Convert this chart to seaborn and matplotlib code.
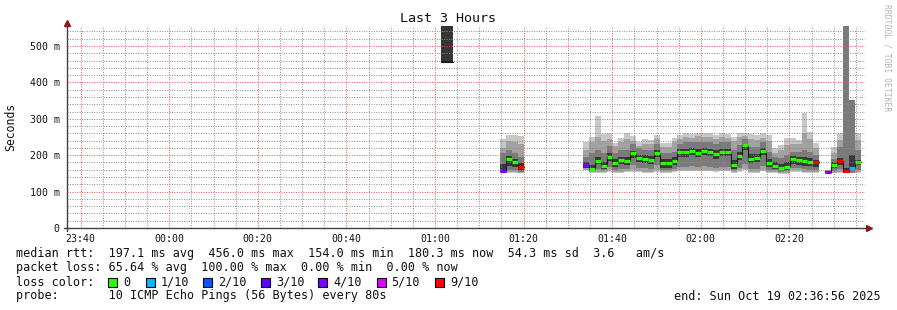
import numpy as np
import pandas as pd
import matplotlib
matplotlib.use("Agg")
import matplotlib.pyplot as plt
import seaborn as sns
from matplotlib.patches import Rectangle
from matplotlib.lines import Line2D
from matplotlib.ticker import MultipleLocator

nan = np.nan

# ---------------- data ----------------
title = "Last 3 Hours"
window_start = "23:36:56"
window_end = "02:36:56"
step_seconds = 80

# three runs of data (start time of first step of each run)
seg_starts = ["01:01:23", "01:14:43", "01:33:23"]

# median rtt (ms) per step
med_a = [456, 456]
med_b = [157, 190, 180, 168]
med_c = [173, 161, 185, 170, 196, 178, 187, 184, 205, 191, 190, 187, 207, 178, 178, 184,
         208, 208, 212, 207, 212, 209, 203, 209, 209, 173, 198, 227, 190, 191, 212, 178,
         171, 166, 168, 189, 186, 183, 182, 180, nan, 155, 174, 183, 157, 166, 180]

# loss level per step (None = no colour)
loss_a = [None, None]
loss_b = ["4/10", "0", "0", "9/10"]
loss_c = ["4/10", "0", "0", "0", "0", "0", "0", "0", "0", "0", "0", "0", "0", "0", "0", "0",
          "0", "0", "0", "0", "0", "0", "0", "0", "0", "0", "0", "0", "0", "0", "0", "0",
          "0", "0", "0", "0", "0", "0", "0", "9/10", None, "4/10", "0", "9/10", "9/10", "1/10", "0"]

# smoke layers: (lo, hi) for layer 0 (lightest) .. layer 3 (darkest)
hi0_a = [600, 600]; lo0_a = [456, 456]
hi1_a = [600, 600]; lo1_a = [456, 456]
hi2_a = [600, 600]; lo2_a = [456, 456]
hi3_a = [600, 600]; lo3_a = [456, 456]

hi0_b = [244, 255, 255, 253]; lo0_b = [152, 152, 152, 150]
hi1_b = [219, 240, 235, 232]; lo1_b = [154, 155, 155, 152]
hi2_b = [205, 215, 205, 195]; lo2_b = [156, 160, 160, 155]
hi3_b = [175, 198, 190, 178]; lo3_b = [157, 170, 168, 158]

hi0_c = [237, 251, 308, 258, 260, 233, 246, 260, 253, 237, 244, 242, 255, 233, 233, 246,
         255, 262, 258, 262, 260, 262, 255, 260, 258, 251, 262, 262, 258, 255, 260, 255,
         219, 228, 246, 246, 242, 315, 265, 233, nan, 160, 223, 260, 600, 352, 261]
hi1_c = [215, 235, 250, 240, 245, 225, 235, 245, 240, 225, 230, 230, 245, 222, 222, 235,
         245, 250, 248, 252, 250, 250, 245, 250, 248, 240, 250, 252, 245, 242, 248, 240,
         205, 215, 228, 230, 230, 260, 245, 220, nan, 158, 205, 242, 600, 352, 242]
hi2_c = [195, 205, 215, 205, 225, 205, 215, 215, 230, 220, 215, 215, 230, 205, 205, 210,
         232, 235, 236, 235, 236, 235, 230, 235, 235, 215, 228, 245, 222, 222, 236, 210,
         195, 192, 200, 210, 210, 215, 210, 200, nan, 156, 190, 222, 600, 352, 215]
hi3_c = [180, 172, 195, 180, 205, 190, 196, 195, 212, 200, 200, 198, 214, 190, 190, 196,
         216, 218, 220, 217, 220, 218, 213, 218, 218, 188, 208, 232, 202, 202, 220, 190,
         180, 176, 180, 198, 196, 194, 192, 188, nan, 156, 182, 192, 165, 200, 188]
lo0_c = [158, 150, 152, 152, 155, 150, 152, 153, 155, 153, 152, 152, 155, 150, 152, 154,
         156, 157, 157, 156, 157, 156, 155, 156, 156, 150, 155, 158, 152, 152, 156, 150,
         150, 148, 148, 155, 155, 152, 150, 150, nan, 150, 150, 152, 150, 150, 152]
lo1_c = [160, 153, 155, 155, 158, 153, 155, 156, 158, 156, 155, 155, 158, 153, 155, 157,
         159, 160, 160, 159, 160, 159, 158, 159, 159, 153, 158, 161, 155, 155, 159, 153,
         153, 151, 151, 158, 158, 155, 153, 153, nan, 151, 152, 155, 150, 150, 155]
lo2_c = [165, 157, 162, 160, 168, 160, 163, 163, 172, 166, 165, 163, 172, 160, 160, 163,
         168, 168, 170, 168, 170, 168, 165, 168, 168, 158, 165, 175, 163, 163, 170, 160,
         158, 155, 156, 165, 165, 162, 160, 158, nan, 152, 156, 162, 152, 152, 160]
lo3_c = [165, 156, 175, 162, 185, 168, 176, 174, 192, 180, 178, 176, 195, 166, 166, 172,
         196, 196, 200, 195, 200, 197, 190, 197, 197, 163, 186, 214, 178, 180, 200, 168,
         162, 158, 160, 176, 174, 170, 170, 168, nan, 153, 165, 172, 154, 160, 172]

y_ticks = [0, 100, 200, 300, 400, 500]
y_tick_labels = ["0", "100 m", "200 m", "300 m", "400 m", "500 m"]
x_tick_labels = ["23:40", "00:00", "00:20", "00:40", "01:00", "01:20", "01:40", "02:00", "02:20"]

loss_levels = ["0", "1/10", "2/10", "3/10", "4/10", "5/10", "9/10"]
loss_colors = ["#26ff00", "#00b8ff", "#0059ff", "#5e00ff", "#7e00ff", "#dd00ff", "#ff0000"]

legend_line1 = "median rtt:  197.1 ms avg  456.0 ms max  154.0 ms min  180.3 ms now  54.3 ms sd  3.6   am/s"
legend_line2 = "packet loss: 65.64 % avg  100.00 % max  0.00 % min  0.00 % now"
legend_line3 = "loss color:"
legend_line4 = "probe:       10 ICMP Echo Pings (56 Bytes) every 80s"
end_text = "end: Sun Oct 19 02:36:56 2025"

# ---------------- helpers ----------------
def tmin(s):
    parts = [int(p) for p in s.split(":")]
    h, m = parts[0], parts[1]
    sec = parts[2] if len(parts) > 2 else 0
    v = h * 60 + m + sec / 60
    return v - 1440 if h >= 12 else v

step = step_seconds / 60.0
segments = [
    dict(med=med_a, loss=loss_a, lo=[lo0_a, lo1_a, lo2_a, lo3_a], hi=[hi0_a, hi1_a, hi2_a, hi3_a]),
    dict(med=med_b, loss=loss_b, lo=[lo0_b, lo1_b, lo2_b, lo3_b], hi=[hi0_b, hi1_b, hi2_b, hi3_b]),
    dict(med=med_c, loss=loss_c, lo=[lo0_c, lo1_c, lo2_c, lo3_c], hi=[hi0_c, hi1_c, hi2_c, hi3_c]),
]
layer_colors = ["#c8c8c8", "#a2a2a2", "#7a7a7a", "#363636"]
color_of = dict(zip(loss_levels, loss_colors))

W, H = 897, 310
def fx(x):
    return x / W
def fy(y):
    return 1 - y / H

sns.set_style("white")
plt.rcParams["font.family"] = ["DejaVu Sans Mono"]

fig = plt.figure(figsize=(W / 100, H / 100), dpi=100)
fig.patch.set_facecolor("white")
ax = fig.add_axes([fx(67), fy(228), fx(864.5) - fx(67), fy(26) - fy(228)])
ax.set_facecolor("white")

x0, x1 = tmin(window_start), tmin(window_end)

rows = []
run_id = 0
for seg_start, seg in zip(seg_starts, segments):
    t0 = tmin(seg_start)
    n = len(seg["med"])
    xs = np.array([t0 + i * step for i in range(n)])
    for k in range(4):
        lo = np.array(seg["lo"][k], dtype=float)
        hi = np.array(seg["hi"][k], dtype=float)
        ok = ~np.isnan(lo)
        ax.bar(xs[ok], hi[ok] - lo[ok], bottom=lo[ok], width=step, align="edge",
               color=layer_colors[k], linewidth=0, zorder=1)
    med = np.array(seg["med"], dtype=float)
    for i in range(n):
        if np.isnan(med[i]):
            run_id += 1
            continue
        rows.append(dict(x=xs[i], y=med[i], run=run_id))
        last = (i == n - 1) or np.isnan(med[i + 1])
        if last:
            rows.append(dict(x=xs[i] + step, y=med[i], run=run_id))
    run_id += 1
    for i in range(n):
        if np.isnan(med[i]):
            continue
        lv = seg["loss"][i]
        c = color_of[lv] if lv is not None else "#1a1a1a"
        lw = 2.3 if lv is not None else 1.4
        ax.hlines(med[i], xs[i], xs[i] + step, colors=c, linewidth=lw, zorder=4)

df = pd.DataFrame(rows)
sns.lineplot(data=df, x="x", y="y", units="run", estimator=None, drawstyle="steps-post",
             color="#1a1a1a", linewidth=0.8, ax=ax, legend=False, zorder=3, sort=False)
ax.set_xlabel("")
ax.set_ylabel("")
ax.set_xlim(x0, x1)
ax.set_ylim(0, 555)

# grid
ax.xaxis.set_minor_locator(MultipleLocator(5))
ax.yaxis.set_minor_locator(MultipleLocator(20))
ax.set_yticks(y_ticks)
ax.set_yticklabels(y_tick_labels)
xt = [tmin(s) for s in x_tick_labels]
ax.set_xticks(xt)
ax.set_xticklabels(x_tick_labels)
ax.set_axisbelow(False)
ax.grid(which="minor", color=(0.55, 0.55, 0.55, 0.2), linestyle=(0, (1, 1.5)), linewidth=0.7)
ax.grid(which="major", color=(1.0, 0.3, 0.3, 0.28), linestyle=(0, (1, 1.5)), linewidth=0.7)

ax.tick_params(axis="both", which="major", length=2.2, width=0.8, color="#404040",
               labelsize=7.1, labelcolor="#111111", direction="out")
ax.tick_params(axis="x", which="major", pad=2.0)
ax.tick_params(axis="y", which="major", pad=3.2)
ax.tick_params(axis="both", which="minor", length=1.4, width=0.7, color="#606060", direction="out")
for sp in ax.spines.values():
    sp.set_visible(False)

# axes with arrows
axis_col = "#404040"
arrow_col = "#8b1a1a"
fig.add_artist(Line2D([fx(64), fx(866)], [fy(228), fy(228)], color=axis_col, lw=1.0))
fig.add_artist(Line2D([fx(67), fx(67)], [fy(231), fy(25)], color=axis_col, lw=1.0))
fig.add_artist(Line2D([fx(869)], [fy(228)], marker=">", color=arrow_col, markersize=4, lw=0))
fig.add_artist(Line2D([fx(67)], [fy(23)], marker="^", color=arrow_col, markersize=4, lw=0))

# texts
fig.text(fx(448), fy(19), title, ha="center", va="center", fontsize=9.6, color="#111111")
fig.text(fx(11), fy(127), "Seconds", ha="center", va="center", rotation=90, fontsize=8.3, color="#111111")
fig.text(fx(887), fy(4), "RRDTOOL / TOBI OETIKER", ha="center", va="top", rotation=270,
         fontsize=5.8, color="#b4b4b4")

fs = 8.5
fig.text(fx(16), fy(254), legend_line1, ha="left", va="center", fontsize=fs, color="#111111")
fig.text(fx(16), fy(268), legend_line2, ha="left", va="center", fontsize=fs, color="#111111")
fig.text(fx(16), fy(282), legend_line3, ha="left", va="center", fontsize=fs, color="#111111")
fig.text(fx(16), fy(296), legend_line4, ha="left", va="center", fontsize=fs, color="#111111")
fig.text(fx(881), fy(296), end_text, ha="right", va="center", fontsize=fs, color="#111111")

box_x = [108.3, 145.7, 203.3, 260.7, 318.3, 376.7, 435]
lab_x = [123.3, 160.7, 218, 276, 333, 390.7, 450]
for bx, lx, lv, c in zip(box_x, lab_x, loss_levels, loss_colors):
    fig.add_artist(Rectangle((fx(bx), fy(286.5)), fx(9), fy(0) - fy(8.5), facecolor=c,
                             edgecolor="#000000", linewidth=0.8, transform=fig.transFigure))
    fig.text(fx(lx), fy(282), lv, ha="left", va="center", fontsize=fs, color="#111111")

fig.savefig("out.png", dpi=100, facecolor="white")
